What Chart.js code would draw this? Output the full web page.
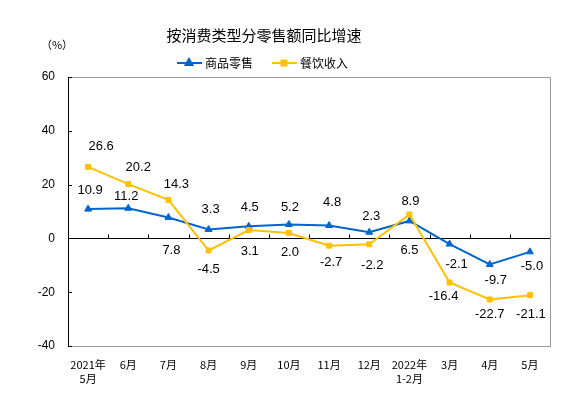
<!DOCTYPE html>
<html>
<head>
<meta charset="utf-8">
<script src="https://cdn.jsdelivr.net/npm/chart.js@4/dist/chart.umd.min.js"></script>
<style>
html,body{margin:0;padding:0;background:#fff;}
#wrap{width:580px;height:399px;}
</style>
</head>
<body>
<div id="wrap"><canvas id="c" width="580" height="399"></canvas></div>
<script>
const categories = [['2021年','5月'],'6月','7月','8月','9月','10月','11月','12月',['2022年','1-2月'],'3月','4月','5月'];
const goodsRetail = [10.9, 11.2, 7.8, 3.3, 4.5, 5.2, 4.8, 2.3, 6.5, -2.1, -9.7, -5.0];
const cateringIncome = [26.6, 20.2, 14.3, -4.5, 3.1, 2.0, -2.7, -2.2, 8.9, -16.4, -22.7, -21.1];
const yTicks = [-40, -20, 0, 20, 40, 60];
const seriesNames = ['商品零售', '餐饮收入'];
const titleText = '按消费类型分零售额同比增速';
const unitText = '（%）';

const BLUE = '#0066CC';
const YELLOW = '#FFC000';
const LABEL_FONT = '13px "Liberation Sans", Arial, sans-serif';
const CJK = '"Noto Sans CJK SC", sans-serif';

// label offsets [dx, dy] relative to points (style only)
const labelOffsets = [
  [[2,-19],[-2,-12],[3,33],[2,-20],[1,-19],[1,-17],[3,-23],[2,-16],[0,30],[7,20],[6,16],[2,15]],
  [[13,-20],[10,-17],[8,-16],[0,19],[1,21],[1,19],[2,17],[3,21],[1,-13],[-6,14],[0,15],[1,19]]
];

const decor = {
  id: 'decor',
  beforeDatasetsDraw(chart) {
    const ctx = chart.ctx;
    const a = chart.chartArea;
    const x = chart.scales.x, y = chart.scales.y;
    ctx.save();
    // gray frame top/right
    ctx.strokeStyle = '#999999';
    ctx.lineWidth = 1;
    ctx.beginPath();
    ctx.moveTo(a.left, a.top + 0.5);
    ctx.lineTo(a.right + 0.5, a.top + 0.5);
    ctx.lineTo(a.right + 0.5, a.bottom);
    ctx.stroke();
    // zero line
    const y0 = Math.round(y.getPixelForValue(0)) + 0.5;
    ctx.strokeStyle = '#000';
    ctx.beginPath();
    ctx.moveTo(a.left, y0);
    ctx.lineTo(a.right, y0);
    ctx.stroke();
    // category boundary ticks on zero line (upward)
    const n = categories.length;
    const w = (a.right - a.left) / n;
    ctx.beginPath();
    for (let i = 1; i < n; i++) {
      const xx = Math.round(a.left + w * i) + 0.5;
      ctx.moveTo(xx, y0);
      ctx.lineTo(xx, y0 - 4);
    }
    ctx.stroke();
    // y ticks inward
    ctx.beginPath();
    yTicks.forEach(v => {
      const yy = Math.round(y.getPixelForValue(v)) + 0.5;
      ctx.moveTo(a.left, yy);
      ctx.lineTo(a.left + 4, yy);
    });
    ctx.stroke();
    ctx.restore();
  },
  afterDraw(chart) {
    const ctx = chart.ctx;
    ctx.save();
    // title
    ctx.fillStyle = '#000';
    ctx.font = '15px ' + CJK;
    ctx.textAlign = 'center';
    ctx.textBaseline = 'middle';
    ctx.fillText(titleText, 264, 35);
    // unit
    ctx.font = '11px ' + CJK;
    ctx.fillText(unitText, 57, 45);
    // legend
    const items = [
      {x: 177, color: BLUE, style: 'triangle', name: seriesNames[0]},
      {x: 272, color: YELLOW, style: 'rect', name: seriesNames[1]}
    ];
    items.forEach(it => {
      ctx.strokeStyle = it.color;
      ctx.lineWidth = 2;
      ctx.beginPath();
      ctx.moveTo(it.x, 63);
      ctx.lineTo(it.x + 25, 63);
      ctx.stroke();
      ctx.fillStyle = it.color;
      Chart.helpers.drawPoint(ctx, {pointStyle: it.style, radius: it.style === 'rect' ? 3.5 : 4, borderWidth: 1}, it.x + 12, 63);
      ctx.fillStyle = '#000';
      ctx.font = '12px ' + CJK;
      ctx.textAlign = 'left';
      ctx.fillText(it.name, it.x + 28, 63);
    });
    // data labels
    ctx.font = LABEL_FONT;
    ctx.textAlign = 'center';
    ctx.textBaseline = 'middle';
    ctx.fillStyle = '#000';
    chart.data.datasets.forEach((ds, di) => {
      const meta = chart.getDatasetMeta(di);
      meta.data.forEach((pt, i) => {
        const off = labelOffsets[di][i];
        ctx.fillText(ds.data[i].toFixed(1), pt.x + off[0], pt.y + off[1]);
      });
    });
    ctx.restore();
  }
};

new Chart(document.getElementById('c'), {
  type: 'line',
  data: {
    labels: categories,
    datasets: [
      {
        label: seriesNames[0], data: goodsRetail,
        borderColor: BLUE, backgroundColor: BLUE, borderWidth: 2,
        pointStyle: 'triangle', pointRadius: 4, pointBorderWidth: 1,
        tension: 0, order: 2
      },
      {
        label: seriesNames[1], data: cateringIncome,
        borderColor: YELLOW, backgroundColor: YELLOW, borderWidth: 2,
        pointStyle: 'rect', pointRadius: 3.5, pointBorderWidth: 1,
        tension: 0, order: 1
      }
    ]
  },
  options: {
    responsive: false,
    animation: false,
    devicePixelRatio: 1,
    layout: {padding: {top: 77, left: 0, right: 30, bottom: 0}},
    plugins: {legend: {display: false}, title: {display: false}, tooltip: {enabled: false}},
    scales: {
      x: {
        type: 'category',
        offset: true,
        grid: {display: false, drawTicks: false},
        border: {display: true, color: '#999999', width: 1},
        ticks: {
          color: '#000', padding: 11, maxRotation: 0, autoSkip: false,
          font: {family: CJK, size: 11, lineHeight: 1.35}
        },
        afterFit(s) { s.height = 53; }
      },
      y: {
        min: -40, max: 60,
        afterBuildTicks(s) { s.ticks = yTicks.map(v => ({value: v})); },
        grid: {display: false, drawTicks: false},
        border: {display: true, color: '#000', width: 1},
        ticks: {
          color: '#000', padding: 13,
          font: {family: '"Liberation Sans", Arial, sans-serif', size: 12}
        },
        afterFit(s) { s.width = 68; }
      }
    }
  },
  plugins: [decor]
});
</script>
</body>
</html>
